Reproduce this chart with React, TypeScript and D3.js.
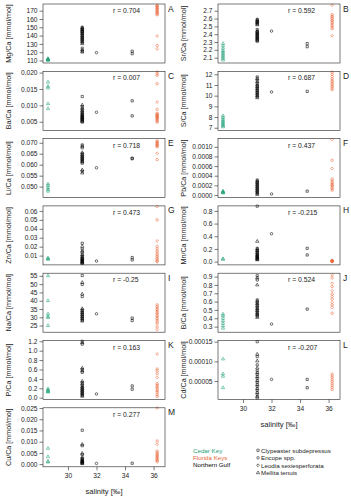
import * as d3 from 'd3';
import { useEffect, useRef } from 'react';

// salinity of each sampling group
const siteSalinity = { cedar: 28.6, gulf31: 31, gulf32: 32, gulf345: 34.5, keys: 36.25 };
const siteColor = { cedar: '#1b9e77', gulf31: '#000000', gulf32: '#000000', gulf345: '#000000', keys: '#e8673a' };

const xTicks = [30, 32, 34, 36];

const mgCa = {
  cedar: [110.2, 110.6, 111.0, 111.4, 111.8, 112.3],
  gulf31: [150, 149.2, 148.1, 147.3, 146.5, 145.4, 144.6, 143.8, 142.5, 141.7, 140.3, 139.2, 138.4, 137.1, 136.0, 135.2, 134.1, 132.8, 131.5, 130.2, 124.8, 122.6, 121.3, 120.1],
  gulf32: [119.5],
  gulf345: [121.2, 118.2],
  keys: [176.5, 175.6, 174.8, 173.9, 172.7, 171.8, 170.6, 169.5, 168.4, 167.2, 166.0, 165.1, 139.5, 128.0, 124.0],
};
const srCa = {
  cedar: [2.07, 2.09, 2.11, 2.13, 2.15, 2.17, 2.19, 2.22, 2.25, 2.28],
  gulf31: [2.59, 2.58, 2.57, 2.56, 2.55, 2.54, 2.53, 2.52, 2.46, 2.44, 2.43, 2.42, 2.41, 2.40, 2.39, 2.38, 2.37, 2.36, 2.35, 2.34, 2.33, 2.32, 2.31],
  gulf32: [2.44],
  gulf345: [2.28, 2.24],
  keys: [2.77, 2.65, 2.63, 2.62, 2.60, 2.58, 2.57, 2.55, 2.53, 2.51, 2.49, 2.47, 2.38],
};
const baCa = {
  cedar: [0.0171, 0.0158, 0.0153, 0.0105, 0.0090],
  gulf31: [0.0127, 0.0101, 0.0096, 0.0091, 0.0087, 0.0083, 0.0080, 0.0077, 0.0074, 0.0071, 0.0069, 0.0067, 0.0065, 0.0063, 0.0061, 0.0059, 0.0057, 0.0055, 0.0053, 0.0051, 0.0049],
  gulf32: [0.0079],
  gulf345: [0.0114, 0.0068],
  keys: [0.0202, 0.0196, 0.0191, 0.0166, 0.0110, 0.0088, 0.0076, 0.0073, 0.0071, 0.0069, 0.0067, 0.0065, 0.0063, 0.0061, 0.0058, 0.0055, 0.0052, 0.0049],
};
const sCa = {
  cedar: [7.08, 7.18, 7.28, 7.4, 7.52, 7.64, 7.78, 7.95, 8.12],
  gulf31: [11.75, 11.6, 11.45, 11.3, 11.15, 11.0, 10.9, 10.8, 10.7, 10.6, 10.5, 10.4, 10.3, 10.2, 10.1, 10.0, 9.9, 9.8],
  gulf32: [10.35],
  gulf345: [10.4],
  keys: [12.2, 12.0, 11.8, 11.6, 11.45, 11.3, 11.15, 11.0, 10.85, 10.7, 10.55],
};
const liCa = {
  cedar: [0.0512, 0.0505, 0.0494, 0.0487, 0.0479],
  gulf31: [0.0690, 0.0684, 0.0677, 0.0655, 0.0650, 0.0645, 0.0640, 0.0636, 0.0632, 0.0628, 0.0624, 0.0620, 0.0616, 0.0612, 0.0607, 0.0576, 0.0570, 0.0562],
  gulf32: [0.0586],
  gulf345: [0.0630, 0.0627],
  keys: [0.0709, 0.0705, 0.0701, 0.0697, 0.0693, 0.0689, 0.0685, 0.0682, 0.0652, 0.0624],
};
const pbCa = {
  cedar: [0.00008, 0.00007, 0.00006, 0.00005, 0.00004],
  gulf31: [0.00031, 0.00029, 0.00027, 0.00025, 0.00023, 0.00021, 0.00019, 0.00017, 0.00015, 0.00013, 0.00011, 0.00009, 0.00007, 0.00005, 0.00003, 0.00001],
  gulf32: [0.00002],
  gulf345: [0.00008],
  keys: [0.00115, 0.00072, 0.00055, 0.00033, 0.00029, 0.00026, 0.00023, 0.00021, 0.00019, 0.00016, 0.00013, 0.0001],
};
const znCa = {
  cedar: [0.0072, 0.0065, 0.0058],
  gulf31: [0.0238, 0.0202, 0.0172, 0.0150, 0.0131, 0.0112, 0.0095, 0.0085, 0.0075, 0.0066, 0.0058, 0.0050, 0.0043, 0.0036, 0.0030, 0.0024, 0.0018, 0.0013],
  gulf32: [0.0040],
  gulf345: [0.0078, 0.0052],
  keys: [0.0648, 0.0500, 0.0264, 0.0201, 0.0175, 0.0150, 0.0128, 0.0108, 0.0090, 0.0072, 0.0055, 0.0040, 0.0030],
};
const mnCa = {
  cedar: [0.045, 0.035],
  gulf31: [0.875, 0.32, 0.21, 0.195, 0.18, 0.165, 0.15, 0.135, 0.12, 0.105, 0.095, 0.085, 0.075, 0.065, 0.055, 0.045, 0.035, 0.028],
  gulf32: [0.44],
  gulf345: [0.21, 0.105],
  keys: [0.02, 0.016, 0.012, 0.009, 0.006, 0.004, 0.002, 0.0],
};
const naCa = {
  cedar: [55, 40, 32, 30.5, 29.8, 25],
  gulf31: [55.2, 51, 49.8, 44, 42.5, 35.2, 34.4, 33.7, 33.1, 32.5, 31.9, 31.3, 30.7, 30.1, 29.5, 28.9, 28.3, 27.7],
  gulf32: [32.1],
  gulf345: [29.5, 28],
  keys: [37.6, 36.6, 35.6, 34.7, 33.8, 33.0, 32.1, 31.2, 30.3, 29.3, 28.3, 27.2, 26.0, 24.2, 22.5],
};
const bCa = {
  cedar: [0.45, 0.43, 0.40, 0.37, 0.34, 0.31, 0.28],
  gulf31: [0.91, 0.885, 0.86, 0.80, 0.62, 0.605, 0.59, 0.575, 0.56, 0.545, 0.53, 0.515, 0.50, 0.49, 0.475, 0.46, 0.45, 0.44, 0.425, 0.41],
  gulf32: [0.33],
  gulf345: [0.51],
  keys: [0.92, 0.885, 0.82, 0.78, 0.73, 0.69, 0.66, 0.63, 0.59, 0.56, 0.53, 0.46],
};
const pCa = {
  cedar: [0.19, 0.165, 0.145, 0.13, 0.12],
  gulf31: [1.2, 1.17, 1.14, 0.63, 0.6, 0.57, 0.54, 0.35, 0.32, 0.29, 0.26, 0.23, 0.21, 0.19, 0.17, 0.15, 0.13, 0.11, 0.09, 0.07, 0.05, 0.03],
  gulf32: [0.08],
  gulf345: [0.25, 0.18],
  keys: [0.93, 0.61, 0.57, 0.51, 0.43, 0.3, 0.27, 0.24, 0.21, 0.17, 0.14, 0.11, 0.06, 0.03],
};
const cdCa = {
  cedar: [0.000106, 0.000068, 0.000062, 0.000033],
  gulf31: [0.00015, 0.000118, 0.000112, 0.000101, 0.000091, 0.000083, 0.000076, 0.000071, 0.000066, 0.000061, 0.000056, 0.000051, 0.000046, 0.000041, 0.000036, 0.000031, 0.000026, 0.000021, 0.000016, 0.000011, 0.000007],
  gulf32: [0.000054],
  gulf345: [0.000054, 0.000033],
  keys: [0.000068, 0.000063, 0.000058, 0.000053, 0.000048, 0.000043, 0.000038, 0.000033, 0.000028],
};
const cuCa = {
  cedar: [0.0070, 0.0033, 0.0012, 0.0009],
  gulf31: [0.0151, 0.0088, 0.0082, 0.0048, 0.0042, 0.0030, 0.0025, 0.0021, 0.0018, 0.0015, 0.0012, 0.0010, 0.0008, 0.0006, 0.0004, 0.0002],
  gulf32: [0.0003],
  gulf345: [0.0004],
  keys: [0.0250, 0.0103, 0.0088, 0.0058, 0.0051, 0.0045, 0.0040, 0.0035, 0.0030, 0.0025, 0.0020, 0.0015, 0.0010],
};

// col, row, label, panel letter, r value, y ticks, decimals
const panels = [
  { col: 0, row: 0, name: 'Mg/Ca', letter: 'A', r: '0.704', data: mgCa, ticks: [110, 120, 130, 140, 150, 160, 170], dec: 0, dom: [107, 178] },
  { col: 1, row: 0, name: 'Sr/Ca', letter: 'B', r: '0.592', data: srCa, ticks: [2.1, 2.2, 2.3, 2.4, 2.5, 2.6, 2.7], dec: 1, dom: [2.032, 2.786] },
  { col: 0, row: 1, name: 'Ba/Ca', letter: 'C', r: '0.007', data: baCa, ticks: [0.005, 0.01, 0.015, 0.02], dec: 3, dom: [0.0024, 0.0204] },
  { col: 1, row: 1, name: 'S/Ca', letter: 'D', r: '0.687', data: sCa, ticks: [7, 8, 9, 10, 11, 12], dec: 0, dom: [6.76, 12.28] },
  { col: 0, row: 2, name: 'Li/Ca', letter: 'E', r: '0.718', data: liCa, ticks: [0.05, 0.055, 0.06, 0.065, 0.07], dec: 3, dom: [0.045, 0.0719] },
  { col: 1, row: 2, name: 'Pb/Ca', letter: 'F', r: '0.437', data: pbCa, ticks: [0, 0.0002, 0.0004, 0.0006, 0.0008, 0.001], dec: 4, dom: [-0.000054, 0.00117] },
  { col: 0, row: 3, name: 'Zn/Ca', letter: 'G', r: '0.473', data: znCa, ticks: [0.01, 0.02, 0.03, 0.04, 0.05, 0.06], dec: 2, dom: [-0.0004, 0.0656] },
  { col: 1, row: 3, name: 'Mn/Ca', letter: 'H', r: '-0.215', data: mnCa, ticks: [0, 0.2, 0.4, 0.6, 0.8], dec: 1, dom: [-0.052, 0.879] },
  { col: 0, row: 4, name: 'Na/Ca', letter: 'I', r: '-0.25', data: naCa, ticks: [25, 30, 35, 40, 45, 50, 55], dec: 0, dom: [21.0, 56.6] },
  { col: 1, row: 4, name: 'B/Ca', letter: 'J', r: '0.524', data: bCa, ticks: [0.3, 0.4, 0.5, 0.6, 0.7, 0.8, 0.9], dec: 1, dom: [0.233, 0.941] },
  { col: 0, row: 5, name: 'P/Ca', letter: 'K', r: '0.163', data: pCa, ticks: [0, 0.2, 0.4, 0.6, 0.8, 1.0, 1.2], dec: 1, dom: [-0.038, 1.217] },
  { col: 1, row: 5, name: 'Cd/Ca', letter: 'L', r: '-0.207', data: cdCa, ticks: [0.00005, 0.0001, 0.00015], dec: 5, dom: [0.000003, 0.000153] },
  { col: 0, row: 6, name: 'Cu/Ca', letter: 'M', r: '0.277', data: cuCa, ticks: [0, 0.005, 0.01, 0.015, 0.02, 0.025], dec: 3, dom: [-0.0012, 0.0251] },
];

const sites = ['Cedar Key', 'Florida Keys', 'Northern Gulf'];
const siteLegendColor = ['#1b9e77', '#e8673a', '#000000'];
const species = ['Clypeaster subdepressus', 'Encope spp.', 'Leodia sexiesperforata', 'Mellita tenuis'];
const speciesShape = ['square', 'circle', 'diamond', 'triangle'];

const FONT = "'Liberation Sans', Arial, sans-serif";

function shapeFor(group: string, i: number) {
  if (group === 'cedar') return 'triangle';
  if (group === 'gulf32') return 'circle';
  if (group === 'gulf345') return 'square';
  if (group === 'gulf31') return i % 2 === 0 ? 'square' : 'triangle';
  return i % 2 === 0 ? 'diamond' : 'circle';
}

function symbolPath(shape: string) {
  if (shape === 'circle') return d3.symbol().type(d3.symbolCircle).size(5)()!;
  if (shape === 'triangle') return d3.symbol().type(d3.symbolTriangle).size(4.5)()!;
  return d3.symbol().type(d3.symbolSquare).size(shape === 'diamond' ? 4 : 5)()!;
}

const App = () => {
  const ref = useRef<SVGSVGElement | null>(null);
  const width = 351;
  const height = 500;

  useEffect(() => {
    const svg = d3.select(ref.current!);
    svg.selectAll('*').remove();
    svg.append('rect').attr('width', width).attr('height', height).attr('fill', '#fff');

    const colX = [43, 218];
    const plotW = 122;
    const plotH = 59;
    const rowStep = 67.3;

    panels.forEach((p) => {
      const x0 = colX[p.col];
      const top = 4 + rowStep * p.row;
      const x = d3.scaleLinear().domain([28.25, 36.8]).range([x0, x0 + plotW]);
      const y = d3.scaleLinear().domain(p.dom).range([top + plotH, top]);
      const g = svg.append('g');

      // points
      (Object.keys(siteSalinity) as (keyof typeof siteSalinity)[]).forEach((grp) => {
        p.data[grp].forEach((v: number, i: number) => {
          const shape = shapeFor(grp, i);
          g.append('path')
            .attr('d', symbolPath(shape))
            .attr('transform', `translate(${x(siteSalinity[grp])},${y(v)})` + (shape === 'diamond' ? ' rotate(45)' : ''))
            .attr('fill', 'none')
            .attr('stroke', siteColor[grp])
            .attr('stroke-width', 0.55);
        });
      });

      // box
      g.append('rect')
        .attr('x', x0).attr('y', top).attr('width', plotW).attr('height', plotH)
        .attr('fill', 'none').attr('stroke', '#222').attr('stroke-width', 0.6);

      // y axis
      const ya = g.append('g').attr('transform', `translate(${x0},0)`)
        .call(d3.axisLeft(y).tickValues(p.ticks).tickFormat((d) => (+d).toFixed(p.dec)).tickSize(3.5).tickSizeOuter(0).tickPadding(2));
      ya.select('.domain').remove();
      ya.selectAll('line').attr('stroke', '#222').attr('stroke-width', 0.6);
      ya.selectAll('text').attr('font-family', FONT).attr('font-size', 6.6).attr('fill', '#222');

      g.append('text')
        .attr('transform', `translate(${x0 - 32},${top + plotH / 2}) rotate(-90)`)
        .attr('text-anchor', 'middle')
        .attr('font-family', FONT).attr('font-size', 7.2).attr('fill', '#222')
        .text(`${p.name} [mmol/mol]`);

      g.append('text')
        .attr('x', x0 + 70).attr('y', top + 9)
        .attr('font-family', FONT).attr('font-size', 6.8).attr('fill', '#222')
        .text(`r = ${p.r}`);

      g.append('text')
        .attr('x', x0 + plotW + 3).attr('y', top + 7.5)
        .attr('font-family', FONT).attr('font-size', 8.5).attr('fill', '#222')
        .text(p.letter);

      // x axis only under the last panel of each column
      const last = (p.col === 0 && p.row === 6) || (p.col === 1 && p.row === 5);
      if (last) {
        const xa = g.append('g').attr('transform', `translate(0,${top + plotH})`)
          .call(d3.axisBottom(x).tickValues(xTicks).tickSize(3.5).tickSizeOuter(0).tickPadding(3));
        xa.select('.domain').remove();
        xa.selectAll('line').attr('stroke', '#222').attr('stroke-width', 0.6);
        xa.selectAll('text').attr('font-family', FONT).attr('font-size', 6.6).attr('fill', '#222');
        g.append('text')
          .attr('x', x0 + plotW / 2).attr('y', top + plotH + 27)
          .attr('text-anchor', 'middle')
          .attr('font-family', FONT).attr('font-size', 7.6).attr('fill', '#222')
          .text('salinity [‰]');
      }
    });

    // legends
    sites.forEach((s, i) => {
      svg.append('text')
        .attr('x', 193).attr('y', 452.5 + i * 7.3)
        .attr('font-family', FONT).attr('font-size', 6.2).attr('fill', siteLegendColor[i])
        .text(s);
    });
    species.forEach((s, i) => {
      const cy = 450.3 + i * 7.5;
      svg.append('path')
        .attr('d', symbolPath(speciesShape[i]))
        .attr('transform', `translate(258,${cy})` + (speciesShape[i] === 'diamond' ? ' rotate(45)' : ''))
        .attr('fill', 'none').attr('stroke', '#222').attr('stroke-width', 0.6);
      svg.append('text')
        .attr('x', 261).attr('y', cy + 2.2)
        .attr('font-family', FONT).attr('font-size', 6.2).attr('fill', '#222')
        .text(s);
    });
  }, []);

  return <svg ref={ref} width={width} height={height} style={{ position: 'absolute', left: 0, top: 0 }} />;
};

export default App;
